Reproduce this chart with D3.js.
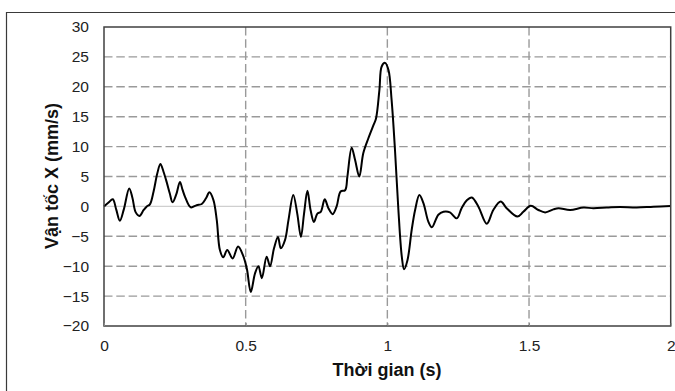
<!DOCTYPE html>
<html>
<head>
<meta charset="utf-8">
<script src="https://cdn.jsdelivr.net/npm/d3@7"></script>
<style>
  html, body { margin: 0; padding: 0; background: #fff; }
  svg { display: block; font-family: "Liberation Sans", Arial, sans-serif; }
</style>
</head>
<body>
<svg id="chart" width="675" height="391"></svg>
<script>
// Velocity record, X component (mm/s) against time (s)
const timeS = [
  0.000, 0.015, 0.031, 0.043, 0.056, 0.070, 0.089, 0.100, 0.112, 0.125,
  0.140, 0.151, 0.162, 0.175, 0.188, 0.199, 0.210, 0.221, 0.232, 0.242,
  0.255, 0.268, 0.277, 0.286, 0.306, 0.327, 0.345, 0.360, 0.372, 0.386,
  0.398, 0.409, 0.421, 0.435, 0.454, 0.473, 0.490, 0.504, 0.518, 0.533,
  0.545, 0.557, 0.574, 0.586, 0.600, 0.614, 0.624, 0.639, 0.651, 0.668,
  0.682, 0.695, 0.706, 0.718, 0.729, 0.741, 0.753, 0.765, 0.779, 0.792,
  0.807, 0.821, 0.835, 0.851, 0.859, 0.874, 0.886, 0.901, 0.915, 0.933,
  0.951, 0.960, 0.972, 0.980, 0.992, 1.004, 1.015, 1.027, 1.039, 1.051,
  1.059, 1.071, 1.086, 1.098, 1.113, 1.127, 1.145, 1.157, 1.180, 1.198,
  1.221, 1.245, 1.262, 1.280, 1.298, 1.321, 1.351, 1.374, 1.400, 1.421,
  1.459, 1.480, 1.506, 1.533, 1.557, 1.586, 1.604, 1.645, 1.692, 1.727,
  1.774, 1.821, 1.880, 1.939, 2.000
];
const velocityX = [
  0.0, 0.6, 1.2, -0.5, -2.4, -0.5, 3.0, 1.5, -1.0, -1.6,
  -0.6, 0.0, 0.35, 2.5, 5.5, 7.1, 5.8, 4.1, 2.2, 0.7,
  2.0, 4.1, 2.8, 1.6, -0.15, 0.2, 0.4, 1.35, 2.35, 1.1,
  -2.3, -7.3, -8.5, -7.3, -8.7, -6.7, -8.1, -10.4, -14.3, -11.2,
  -10.0, -12.0, -8.4, -10.0, -7.0, -5.1, -7.0, -5.6, -2.3, 1.9,
  -1.2, -5.1, -1.2, 2.6, -0.6, -2.6, -1.2, -0.9, 1.2, -0.3,
  -1.3, 0.0, 2.5, 2.7, 5.0, 9.8, 7.8, 5.0, 8.9, 11.4,
  13.6, 14.7, 19.5, 23.4, 24.0, 22.8, 17.8, 9.4, -0.6, -8.4,
  -10.5, -9.0, -3.9, -0.6, 1.9, 0.6, -2.6, -3.5, -1.4, -0.9,
  -1.0, -2.0, -0.3, 1.0, 1.5, 0.0, -2.9, -0.6, 0.8, -0.3,
  -1.7, -0.9, 0.1, -0.6, -1.0, -0.5, -0.3, -0.6, -0.2, -0.3,
  -0.2, -0.1, -0.2, -0.05, 0.05
];
const xTicks = [0, 0.5, 1, 1.5, 2];
const yTicks = [-20, -15, -10, -5, 0, 5, 10, 15, 20, 25, 30];
const xTitle = "Thời gian (s)";
const yTitle = "Vận tốc X (mm/s)";

const svg = d3.select("#chart");
const W = 675, H = 391;
const m = { left: 104, right: 670.7, top: 27, bottom: 326 };

// outer frame (open on the right and bottom edges)
svg.append("path")
  .attr("d", `M6.5,${H}V12.5H${W}`)
  .attr("fill", "none").attr("stroke", "#3a3a3a").attr("stroke-width", 1.2);

const x = d3.scaleLinear().domain([0, 2]).range([m.left, m.right]);
const y = d3.scaleLinear().domain([-20, 30]).range([m.bottom, m.top]);

// gridlines
const grid = svg.append("g");
grid.selectAll("line.h")
  .data(yTicks.filter(v => v !== -20 && v !== 30))
  .join("line")
  .attr("x1", m.left).attr("x2", m.right)
  .attr("y1", d => y(d)).attr("y2", d => y(d))
  .attr("stroke", d => d === 0 ? "#cfcfcf" : "#9a9a9a")
  .attr("stroke-width", d => d === 0 ? 1.4 : 1.4)
  .attr("stroke-dasharray", d => d === 0 ? null : "8.5,3.8");
grid.selectAll("line.v")
  .data(xTicks.filter(v => v !== 0 && v !== 2))
  .join("line")
  .attr("y1", m.top).attr("y2", m.bottom)
  .attr("x1", d => x(d)).attr("x2", d => x(d))
  .attr("stroke", "#9a9a9a").attr("stroke-width", 1.4)
  .attr("stroke-dasharray", "8.5,3.8");

// series
const pts = timeS.map((t, i) => [t, velocityX[i]]);
svg.append("path")
  .datum(pts)
  .attr("fill", "none").attr("stroke", "#000").attr("stroke-width", 2)
  .attr("stroke-linejoin", "round")
  .attr("d", d3.line().x(d => x(d[0])).y(d => y(d[1])).curve(d3.curveCatmullRom.alpha(0.5)));

// plot frame
svg.append("rect")
  .attr("x", m.left).attr("y", m.top)
  .attr("width", m.right - m.left).attr("height", m.bottom - m.top)
  .attr("fill", "none").attr("stroke", "#404040").attr("stroke-width", 1.5);

// axes
const xAxis = svg.append("g").attr("transform", `translate(0,${m.bottom})`)
  .call(d3.axisBottom(x).tickValues(xTicks).tickSize(-3).tickPadding(0).tickFormat(d3.format("")));
xAxis.select(".domain").remove();
xAxis.selectAll(".tick line").attr("stroke", "#8a8a8a");
xAxis.selectAll(".tick text")
  .attr("y", 20).attr("dy", "0.35em")
  .attr("font-size", 15.5).attr("fill", "#222")
  .attr("font-family", "Liberation Sans, Arial, sans-serif");

const yAxis = svg.append("g").attr("transform", `translate(${m.left},0)`)
  .call(d3.axisLeft(y).tickValues(yTicks).tickSize(0).tickPadding(15).tickFormat(d3.format("")));
yAxis.select(".domain").remove();
yAxis.selectAll(".tick text")
  .attr("font-size", 15.5).attr("fill", "#222")
  .attr("font-family", "Liberation Sans, Arial, sans-serif");

// titles
svg.append("text")
  .attr("x", 387).attr("y", 370).attr("dy", "0.35em")
  .attr("text-anchor", "middle").attr("font-weight", "bold")
  .attr("font-size", 18).attr("fill", "#111")
  .text(xTitle);
svg.append("text")
  .attr("transform", "translate(52,176) rotate(-90)")
  .attr("dy", "0.35em")
  .attr("text-anchor", "middle").attr("font-weight", "bold")
  .attr("font-size", 18).attr("fill", "#111")
  .text(yTitle);
</script>
</body>
</html>
